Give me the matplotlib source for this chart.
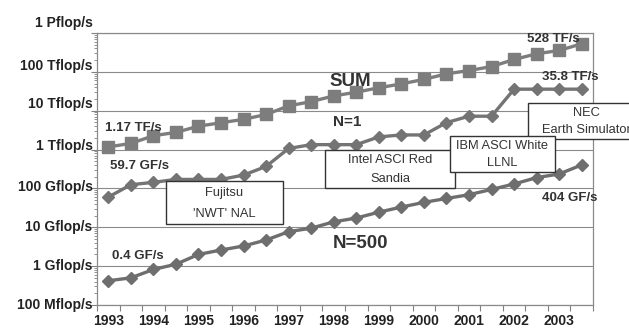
import numpy as np
import matplotlib
matplotlib.use('Agg')
import matplotlib.pyplot as plt
import matplotlib.transforms as mtransforms
from matplotlib.patches import Rectangle
from matplotlib.ticker import LogLocator, NullFormatter, FixedLocator

plt.rcParams['font.family'] = ['Liberation Sans', 'DejaVu Sans']

# TOP500 lists, June and November 1993 - 2003 (values in Gflop/s)
lists = ['06/93', '11/93', '06/94', '11/94', '06/95', '11/95', '06/96', '11/96',
         '06/97', '11/97', '06/98', '11/98', '06/99', '11/99', '06/00', '11/00',
         '06/01', '11/01', '06/02', '11/02', '06/03', '11/03']
year_labels = ['1993', '1994', '1995', '1996', '1997', '1998', '1999', '2000',
               '2001', '2002', '2003']

sum_perf = [1170, 1440, 2270, 2770, 4000, 4900, 6000, 8000, 13300, 17200,
            24000, 30000, 39000, 49000, 64000, 89000, 108000, 137000, 208000,
            292000, 355000, 528000]
n1_perf = [59.7, 124.5, 143.4, 170.4, 170.4, 170.4, 220.4, 368.2, 1068, 1338,
           1338, 1338, 2121, 2379, 2379, 4938, 7226, 7226, 35860, 35860,
           35860, 35860]
n500_perf = [0.42, 0.5, 0.82, 1.12, 2.0, 2.6, 3.3, 4.7, 7.7, 9.5, 13.8, 17.3,
             24.5, 33.1, 43.8, 55.1, 69.0, 94.3, 130, 190, 235, 404]

y_ticks = [0.1, 1, 10, 100, 1e3, 1e4, 1e5, 1e6]
y_labels = ['100 Mflop/s', '1 Gflop/s', '10 Gflop/s', '100 Gflop/s',
            '1 Tflop/s', '10 Tflop/s', '100 Tflop/s', '1 Pflop/s']
# the original labels sit a little higher than their gridlines towards the top
y_label_shift = [0, 0, 0, 1, 3.5, 6.5, 6, 10]

W, H = 629, 328


def fx(x):
    return x / W


def fy(y):
    return 1 - y / H


fig = plt.figure(figsize=(W / 100, H / 100), dpi=100)
ax = fig.add_axes([fx(97), fy(305), 496 / W, 272 / H])

x = np.arange(len(lists))
ax.plot(x, sum_perf, color='#7d7d7d', lw=2.4, marker='s', ms=8, zorder=3)
ax.plot(x, n1_perf, color='#747474', lw=2.4, marker='D', ms=6.2, zorder=3)
ax.plot(x, n500_perf, color='#6e6e6e', lw=2.4, marker='D', ms=6.2, zorder=3)

ax.set_yscale('log')
ax.set_ylim(0.1, 1e6)
ax.set_xlim(-0.5, len(lists) - 0.5)

ax.set_yticks(y_ticks)
ax.set_yticklabels([])
ax.yaxis.set_minor_locator(LogLocator(base=10, subs=range(2, 10)))
ax.yaxis.set_minor_formatter(NullFormatter())
ax.tick_params(axis='y', which='major', direction='out', length=4, width=0.8,
               color='#808080')
ax.tick_params(axis='y', which='minor', direction='out', length=2.5, width=0.6,
               color='#808080')
for val, lab, dy in zip(y_ticks, y_labels, y_label_shift):
    off = mtransforms.ScaledTranslation(0, dy / 100, fig.dpi_scale_trans)
    ax.text(-0.009, val, lab, transform=ax.get_yaxis_transform() + off,
            ha='right', va='center', fontsize=10, fontweight='bold',
            color='#222222')

ax.set_xticks(x[::2])
ax.set_xticklabels(year_labels, fontsize=10, fontweight='bold', color='#222222')
ax.xaxis.set_minor_locator(FixedLocator(np.arange(-0.5, len(lists), 1)))
ax.tick_params(axis='x', which='major', length=0, pad=6.5)
ax.tick_params(axis='x', which='minor', direction='out', length=4, width=0.8,
               color='#808080')

ax.yaxis.grid(True, which='major', color='#8a8a8a', lw=0.8)
ax.set_axisbelow(True)
for side in ['left', 'bottom', 'top', 'right']:
    ax.spines[side].set_color('#8a8a8a')
    ax.spines[side].set_linewidth(0.9)

# value labels
bold = dict(fontweight='bold', color='#333333', va='center', ha='left')
fig.text(fx(105), fy(128), '1.17 TF/s', fontsize=9.5, **bold)
fig.text(fx(110), fy(166), '59.7 GF/s', fontsize=9.5, **bold)
fig.text(fx(112), fy(256), '0.4 GF/s', fontsize=9.5, **bold)
fig.text(fx(527), fy(39), '528 TF/s', fontsize=9.5, **bold)
fig.text(fx(542), fy(77), '35.8 TF/s', fontsize=9.5, **bold)
fig.text(fx(542), fy(198), '404 GF/s', fontsize=9.5, **bold)
fig.text(fx(329), fy(82), 'SUM', fontsize=13.5, **bold)
fig.text(fx(333), fy(122), 'N=1', fontsize=11, **bold)
fig.text(fx(333), fy(243), 'N=500', fontsize=13.5, **bold)

# machine boxes: (left, top, right, bottom, text lines, zorder)
boxes = [
    (166, 181, 283, 224, ['Fujitsu', "'NWT' NAL"], 5),
    (325, 150, 455, 188, ['Intel ASCI Red', 'Sandia'], 5),
    (528, 103, 650, 139, ['NEC', 'Earth Simulator'], 6),
    (450, 136, 555, 172, ['IBM ASCI White', 'LLNL'], 7),
]
for x0, y0, x1, y1, lines_txt, z in boxes:
    fig.add_artist(Rectangle((fx(x0), fy(y1)), (x1 - x0) / W, (y1 - y0) / H,
                             transform=fig.transFigure, facecolor='white',
                             edgecolor='#333333', lw=1.0, zorder=z))
    cx = (x0 + x1) / 2 if x1 < W else 586
    h = (y1 - y0)
    fig.text(fx(cx), fy(y0 + h * 0.27), lines_txt[0], fontsize=9.3, ha='center',
             va='center', color='#333333', zorder=z + 0.5)
    fig.text(fx(cx), fy(y0 + h * 0.76), lines_txt[1], fontsize=9.3, ha='center',
             va='center', color='#333333', zorder=z + 0.5)

fig.savefig('out.png', dpi=100)
